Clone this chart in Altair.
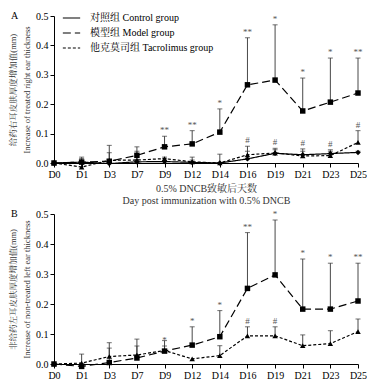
import altair as alt
import pandas as pd

FONT = "Liberation Serif, Noto Serif CJK SC, Noto Sans CJK SC"

days = ["D0", "D1", "D3", "D7", "D9", "D12", "D14", "D16", "D19", "D21", "D23", "D25"]

CTRL = "对照组 Control group"
MODEL = "模型组 Model group"
TAC = "他克莫司组 Tacrolimus group"

# Panel A (treated right ear)
a_ctrl_mean = [0.0, 0.003, -0.002, 0.004, 0.005, 0.002, 0.0, 0.014, 0.033, 0.028, 0.032, 0.036]
a_ctrl_upper = [0.0, 0.010, 0.010, 0.012, 0.015, 0.010, 0.0, 0.040, 0.045, 0.040, 0.040, 0.040]
a_model_mean = [0.0, 0.003, 0.006, 0.026, 0.055, 0.065, 0.105, 0.266, 0.282, 0.177, 0.207, 0.238]
a_model_upper = [0.0, 0.020, 0.060, 0.055, 0.091, 0.110, 0.184, 0.426, 0.470, 0.289, 0.357, 0.357]
a_tac_mean = [0.0, -0.014, 0.009, 0.010, 0.015, 0.004, 0.0, 0.028, 0.034, 0.024, 0.025, 0.070]
a_tac_upper = [0.0, 0.015, 0.035, 0.040, 0.020, 0.020, 0.030, 0.057, 0.050, 0.048, 0.045, 0.110]
a_model_sig = ["", "", "", "", "**", "**", "*", "**", "*", "*", "*", "**"]
a_tac_sig = ["", "", "", "", "", "", "", "#", "#", "#", "#", "#"]

# Panel B (non-treated left ear)
b_model_mean = [0.0, -0.008, 0.005, 0.020, 0.043, 0.063, 0.091, 0.252, 0.297, 0.183, 0.183, 0.210]
b_model_upper = [0.0, 0.0, 0.053, 0.060, 0.060, 0.124, 0.178, 0.438, 0.480, 0.350, 0.336, 0.336]
b_tac_mean = [0.0, 0.003, 0.025, 0.030, 0.045, 0.017, 0.028, 0.094, 0.094, 0.061, 0.068, 0.108]
b_tac_upper = [0.0, 0.033, 0.071, 0.083, 0.078, 0.017, 0.061, 0.124, 0.124, 0.097, 0.111, 0.150]
b_model_sig = ["", "", "", "", "*", "*", "*", "**", "*", "*", "*", "**"]
b_tac_sig = ["", "", "", "", "", "", "", "#", "#", "", "", ""]

GROUPS = [CTRL, MODEL, TAC]
SHAPES = ["diamond", "square", "triangle-up"]
DASHES = [[1, 0], [8, 4], [3, 2]]


def build(series):
    rows = []
    for grp, mean, upper, sig in series:
        for d, m, u, s in zip(days, mean, upper, sig):
            rows.append({"day": d, "group": grp, "mean": m,
                         "upper": max(u, m), "sig": s})
    return pd.DataFrame(rows)


def panel(df, groups, ytitle, xtitle, label, height):
    idx = [GROUPS.index(g) for g in groups]
    x = alt.X("day:N", sort=days,
              scale=alt.Scale(type="point", padding=0, domain=days),
              axis=alt.Axis(labelAngle=0, tickSize=4, labelPadding=2, titlePadding=4,
                            titleLineHeight=12, titleFontSize=10,
                            title=xtitle if xtitle is not None else ""))
    yaxis = alt.Axis(values=[0, 0.1, 0.2, 0.3, 0.4, 0.5], format=".1f", title=ytitle,
                     tickSize=4, labelPadding=2, titlePadding=4, titleLineHeight=14,
                     titleFontSize=8.5, labelOverlap=False)
    yscale = alt.Scale(domain=[0, 0.5], nice=False, zero=False)
    y_mean = alt.Y("mean:Q", scale=yscale, axis=yaxis)
    y_up = alt.Y("upper:Q", scale=yscale, axis=yaxis)
    base = alt.Chart(df)

    rules = base.mark_rule(color="#333", strokeWidth=0.9).encode(
        x=x, y=y_mean, y2="upper:Q"
    ).transform_filter("datum.upper > datum.mean")
    caps = base.mark_tick(color="#333", size=5, thickness=1).encode(
        x=x, y=y_up
    ).transform_filter("datum.upper > datum.mean")
    lines = base.mark_line(color="black", strokeWidth=1.2).encode(
        x=x, y=y_mean,
        strokeDash=alt.StrokeDash(
            "group:N", scale=alt.Scale(domain=groups, range=[DASHES[i] for i in idx]),
            legend=alt.Legend(title=None, orient="none", legendX=8, legendY=-7.5,
                              symbolType="stroke", symbolSize=300, symbolStrokeWidth=1.2,
                              symbolStrokeColor="black", labelOffset=9, rowPadding=-3,
                              padding=0, labelFont=FONT, labelFontSize=10,
                              labelColor="black")),
        detail="group:N",
    )
    pt_layers = []
    for g in groups:
        pt_layers.append(
            base.mark_point(filled=True, size=30, color="black", opacity=1,
                            shape=SHAPES[GROUPS.index(g)]).encode(x=x, y=y_mean)
            .transform_filter(alt.datum.group == g)
        )
    sig = base.mark_text(baseline="bottom", dy=-1, fontSize=9, color="#555", font=FONT).encode(
        x=x, y=y_up, text="sig:N"
    ).transform_filter("datum.sig != ''")
    lab = alt.Chart(pd.DataFrame({"t": [label]})).mark_text(
        align="left", baseline="middle", fontSize=10, font=FONT, color="black"
    ).encode(x=alt.value(-43), y=alt.value(0), text="t:N")

    return alt.layer(rules, caps, lines, *pt_layers, sig, lab).properties(width=304, height=height)


dfA = build([
    (CTRL, a_ctrl_mean, a_ctrl_upper, [""] * 12),
    (MODEL, a_model_mean, a_model_upper, a_model_sig),
    (TAC, a_tac_mean, a_tac_upper, a_tac_sig),
])
dfB = build([
    (MODEL, b_model_mean, b_model_upper, b_model_sig),
    (TAC, b_tac_mean, b_tac_upper, b_tac_sig),
])

chartA = panel(dfA, [CTRL, MODEL, TAC],
               ["给药右耳皮肤厚度增加值(mm)", "Increase of treated right ear thickness"],
               ["0.5% DNCB致敏后天数", "Day post immunization with 0.5% DNCB"], "A", 147)
chartB = panel(dfB, [MODEL, TAC],
               ["非给药左耳皮肤厚度增加值(mm)", "Increase of non-treated left ear thickness"],
               None, "B", 150)

chart = alt.vconcat(chartA, chartB, spacing=4, padding=0).configure_axis(
    labelFont=FONT, titleFont=FONT, labelFontSize=10,
    titleFontWeight="normal", domainColor="black", tickColor="black",
    labelColor="black", titleColor="#333", grid=False,
).configure_view(stroke=None)

chart.save("out.html", embed_options={"renderer": "svg", "actions": False})
